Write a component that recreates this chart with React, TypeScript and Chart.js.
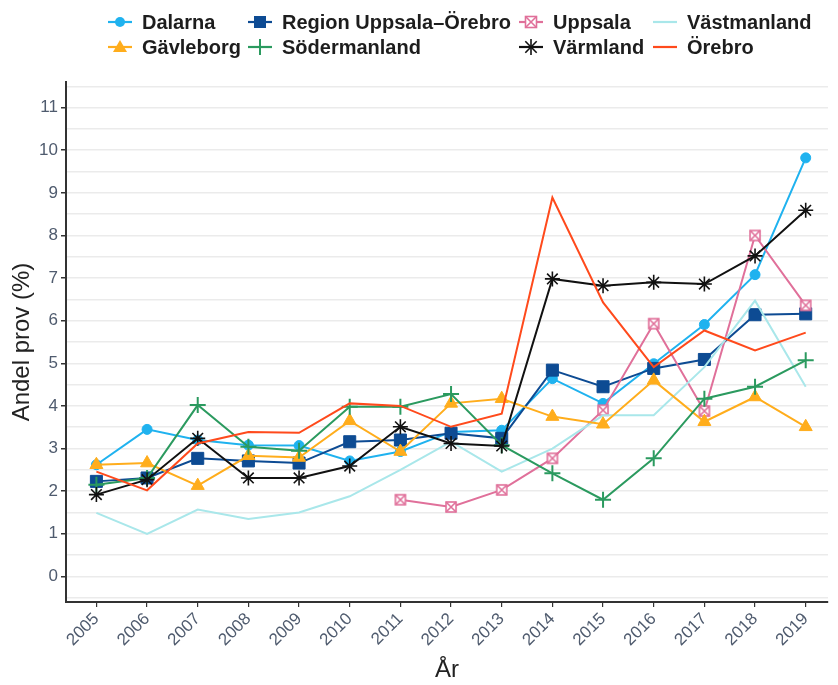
import React, { useEffect, useRef } from "react";
import { Chart, registerables } from "chart.js";

Chart.register(...registerables);

const years = [2005, 2006, 2007, 2008, 2009, 2010, 2011, 2012, 2013, 2014, 2015, 2016, 2017, 2018, 2019];

const dalarna = [2.62, 3.45, 3.2, 3.08, 3.07, 2.71, 2.93, 3.39, 3.43, 4.64, 4.06, 4.99, 5.91, 7.08, 9.82];
const regionUppsalaOrebro = [2.23, 2.31, 2.77, 2.71, 2.66, 3.16, 3.2, 3.36, 3.24, 4.84, 4.45, 4.88, 5.09, 6.14, 6.16];
const uppsala = [null, null, null, null, null, null, 1.8, 1.63, 2.03, 2.77, 3.9, 5.93, 3.88, 8.0, 6.36];
const vastmanland = [1.49, 1.0, 1.57, 1.35, 1.5, 1.88, 2.5, 3.16, 2.46, 3.0, 3.78, 3.78, 4.91, 6.47, 4.45];
const gavleborg = [2.62, 2.66, 2.13, 2.83, 2.79, 3.65, 2.93, 4.06, 4.17, 3.75, 3.57, 4.6, 3.63, 4.21, 3.51];
const sodermanland = [2.15, 2.31, 4.02, 3.04, 2.95, 3.98, 3.98, 4.28, 3.08, 2.42, 1.8, 2.77, 4.17, 4.45, 5.07];
const varmland = [1.92, 2.27, 3.24, 2.31, 2.31, 2.59, 3.51, 3.12, 3.06, 6.98, 6.82, 6.9, 6.86, 7.52, 8.59];
const orebro = [2.46, 2.02, 3.12, 3.39, 3.37, 4.06, 4.0, 3.51, 3.82, 8.89, 6.43, 4.91, 5.77, 5.3, 5.72];

const yGridValues = [-0.5, 0, 0.5, 1, 1.5, 2, 2.5, 3, 3.5, 4, 4.5, 5, 5.5, 6, 6.5, 7, 7.5, 8, 8.5, 9, 9.5, 10, 10.5, 11, 11.5];

const seriesNames = ["Dalarna", "Region Uppsala–Örebro", "Uppsala", "Västmanland", "Gävleborg", "Södermanland", "Värmland", "Örebro"];
const seriesValues = [dalarna, regionUppsalaOrebro, uppsala, vastmanland, gavleborg, sodermanland, varmland, orebro];
const seriesColors = ["#1fb2ef", "#0d4b93", "#e0709a", "#a9e7ea", "#ffad1c", "#2b9a5f", "#111111", "#ff4a1c"];
const seriesMarkers = ["circle", "rect", "boxx", "none", "triangle", "cross", "star", "none"];

// legend is column-major, 4 columns x 2 rows
const legendOrder = ["Dalarna", "Gävleborg", "Region Uppsala–Örebro", "Södermanland", "Uppsala", "Värmland", "Västmanland", "Örebro"];
const legendColX = [120, 260, 531, 665];
const legendRowY = [22, 47];

const FONT = '"Liberation Sans", Arial, Helvetica, sans-serif';

function makeBoxX(color: string) {
  const c = document.createElement("canvas");
  c.width = 14;
  c.height = 14;
  const g = c.getContext("2d")!;
  g.fillStyle = "#ffffff";
  g.fillRect(2, 2, 10, 10);
  g.strokeStyle = color;
  g.lineWidth = 1.6;
  g.strokeRect(2, 2, 10, 10);
  g.beginPath();
  g.moveTo(2, 2);
  g.lineTo(12, 12);
  g.moveTo(12, 2);
  g.lineTo(2, 12);
  g.stroke();
  return c;
}

function markerProps(kind: string, color: string) {
  switch (kind) {
    case "circle":
      return { pointStyle: "circle", pointRadius: 5, pointBorderWidth: 1 };
    case "rect":
      return { pointStyle: "rect", pointRadius: 8.5, pointBorderWidth: 1 };
    case "boxx":
      return { pointStyle: makeBoxX(color), pointRadius: 7, pointBorderWidth: 1 };
    case "triangle":
      return { pointStyle: "triangle", pointRadius: 7.5, pointBorderWidth: 1 };
    case "cross":
      return { pointStyle: "cross", pointRadius: 8, pointBorderWidth: 2 };
    case "star":
      return { pointStyle: "star", pointRadius: 7.5, pointBorderWidth: 1.6 };
    default:
      return { pointStyle: "circle", pointRadius: 0, pointBorderWidth: 0 };
  }
}

function LegendKey({ kind, color }: { kind: string; color: string }) {
  const parts: any[] = [<line key="l" x1={0} y1={12} x2={24} y2={12} stroke={color} strokeWidth={2.2} />];
  if (kind === "circle") parts.push(<circle key="m" cx={12} cy={12} r={5} fill={color} />);
  if (kind === "rect") parts.push(<rect key="m" x={6} y={6} width={12} height={12} fill={color} />);
  if (kind === "boxx")
    parts.push(
      <g key="m" stroke={color} strokeWidth={1.6}>
        <rect x={6.5} y={6.5} width={11} height={11} fill="#fff" />
        <line x1={6.5} y1={6.5} x2={17.5} y2={17.5} />
        <line x1={17.5} y1={6.5} x2={6.5} y2={17.5} />
      </g>
    );
  if (kind === "triangle") parts.push(<polygon key="m" points="12,5 19,17 5,17" fill={color} />);
  if (kind === "cross") parts.push(<line key="m" x1={12} y1={4} x2={12} y2={20} stroke={color} strokeWidth={2} />);
  if (kind === "star")
    parts.push(
      <g key="m" stroke={color} strokeWidth={1.6}>
        <line x1={12} y1={4} x2={12} y2={20} />
        <line x1={6.3} y1={6.3} x2={17.7} y2={17.7} />
        <line x1={17.7} y1={6.3} x2={6.3} y2={17.7} />
      </g>
    );
  return (
    <svg width={24} height={24} style={{ display: "block", flex: "none" }}>
      {parts}
    </svg>
  );
}

export default function App() {
  const canvasRef = useRef<HTMLCanvasElement | null>(null);

  useEffect(() => {
    const canvas = canvasRef.current;
    if (!canvas) return;
    const n = seriesNames.length;
    const datasets: any[] = seriesNames.map((name, i) => ({
      label: name,
      data: years.map((x, j) => ({ x, y: seriesValues[i][j] })),
      borderColor: seriesColors[i],
      backgroundColor: seriesColors[i],
      pointBackgroundColor: seriesColors[i],
      pointBorderColor: seriesColors[i],
      borderWidth: 2,
      tension: 0,
      spanGaps: false,
      order: n - i,
      ...markerProps(seriesMarkers[i], seriesColors[i]),
    }));

    const chart = new Chart(canvas, {
      type: "line",
      data: { datasets },
      options: {
        animation: false,
        responsive: false,
        devicePixelRatio: 1,
        layout: { padding: { top: 82, right: 2, left: 0, bottom: 0 } },
        plugins: { legend: { display: false }, tooltip: { enabled: false } },
        scales: {
          x: {
            type: "linear",
            min: 2004.4,
            max: 2019.44,
            afterBuildTicks: (s: any) => {
              s.ticks = years.map((v) => ({ value: v }));
            },
            afterFit: (s: any) => {
              s.height = 83;
            },
            grid: { drawOnChartArea: false, drawTicks: true, tickLength: 5, tickColor: "#333333", lineWidth: 1.2 },
            border: { color: "#333333", width: 2 },
            ticks: {
              autoSkip: false,
              minRotation: 45,
              maxRotation: 45,
              padding: 2,
              color: "#4f5b6e",
              font: { size: 17, family: FONT },
              callback: (v: any) => String(v),
            },
            title: {
              display: true,
              text: "År",
              color: "#222222",
              font: { size: 24, family: FONT },
              padding: { top: 0, bottom: 0 },
            },
          },
          y: {
            type: "linear",
            min: -0.6,
            max: 11.6,
            afterBuildTicks: (s: any) => {
              s.ticks = yGridValues.map((v) => ({ value: v }));
            },
            afterFit: (s: any) => {
              s.width = 66;
            },
            grid: {
              color: "#ebebeb",
              lineWidth: 1.5,
              drawTicks: true,
              tickLength: 5,
              tickColor: (ctx: any) => (Number.isInteger(ctx.tick && ctx.tick.value) ? "#333333" : "rgba(0,0,0,0)"),
            },
            border: { color: "#333333", width: 2 },
            ticks: {
              autoSkip: false,
              padding: 3,
              color: "#4f5b6e",
              font: { size: 17, family: FONT },
              callback: (v: any) => (Number.isInteger(v) ? String(v) : ""),
            },
            title: {
              display: true,
              text: "Andel prov (%)",
              color: "#222222",
              font: { size: 24, family: FONT },
              padding: { top: 8, bottom: 0 },
            },
          },
        },
      } as any,
    });
    return () => chart.destroy();
  }, []);

  return (
    <div style={{ position: "fixed", left: 0, top: 0, width: 838, height: 685, background: "#ffffff", overflow: "hidden" }}>
      <canvas ref={canvasRef} width={838} height={685} style={{ display: "block", position: "absolute", left: 0, top: 0 }} />
      {legendOrder.map((name, k) => {
        const i = seriesNames.indexOf(name);
        const col = Math.floor(k / 2);
        const row = k % 2;
        return (
          <div
            key={name}
            style={{
              position: "absolute",
              left: legendColX[col] - 12,
              top: legendRowY[row] - 12,
              height: 24,
              display: "flex",
              alignItems: "center",
              whiteSpace: "nowrap",
            }}
          >
            <LegendKey kind={seriesMarkers[i]} color={seriesColors[i]} />
            <span
              style={{
                marginLeft: 10,
                font: `bold 20px ${FONT}`,
                lineHeight: "24px",
                color: "#1d1d1d",
              }}
            >
              {name}
            </span>
          </div>
        );
      })}
    </div>
  );
}
